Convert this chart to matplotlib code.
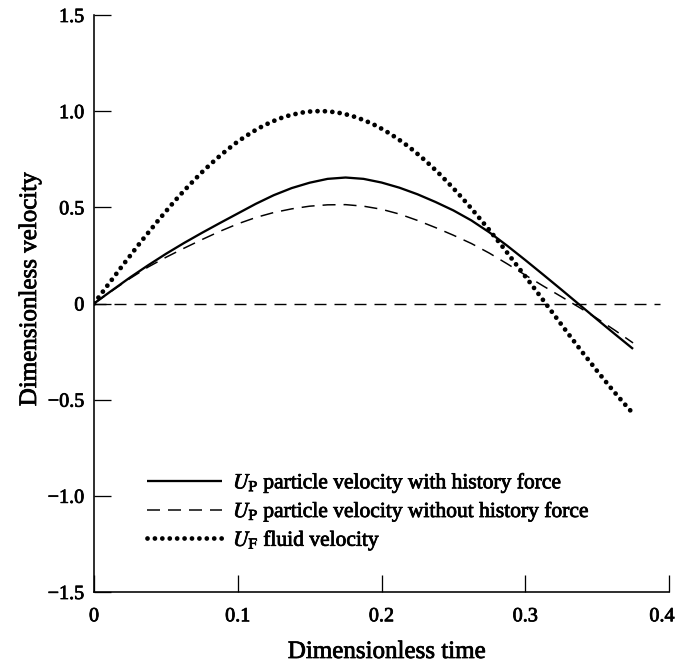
import numpy as np
import matplotlib
matplotlib.use("Agg")
import matplotlib.pyplot as plt
import matplotlib.patheffects as pe
import matplotlib.transforms as mtransforms

# ---------------- data ----------------
t_fluid = np.round(np.arange(0, 76) * 0.005, 4)
u_fluid = [0.000, 0.050, 0.100, 0.149, 0.199, 0.247, 0.296, 0.343, 0.389, 0.435,
           0.479, 0.523, 0.565, 0.605, 0.644, 0.682, 0.717, 0.751, 0.783, 0.813,
           0.842, 0.867, 0.891, 0.913, 0.932, 0.949, 0.964, 0.976, 0.985, 0.993,
           0.998, 1.000, 1.000, 0.997, 0.992, 0.984, 0.974, 0.961, 0.946, 0.929,
           0.909, 0.887, 0.863, 0.837, 0.809, 0.778, 0.746, 0.712, 0.676, 0.638,
           0.599, 0.558, 0.516, 0.472, 0.427, 0.382, 0.335, 0.288, 0.239, 0.190,
           0.141, 0.092, 0.042, -0.008, -0.058, -0.108, -0.158, -0.207, -0.256, -0.303,
           -0.351, -0.397, -0.443, -0.487, -0.530, -0.572]

t_part = np.round(np.arange(0, 31) * 0.0125, 4)
u_hist = [0.000, 0.068, 0.135, 0.198, 0.258, 0.314, 0.367, 0.418, 0.468, 0.518,
          0.563, 0.600, 0.628, 0.648, 0.655, 0.648, 0.629, 0.602, 0.568, 0.528,
          0.484, 0.432, 0.370, 0.300, 0.226, 0.150, 0.073, -0.005, -0.083, -0.160,
          -0.236]
u_nohist = [0.000, 0.066, 0.130, 0.189, 0.240, 0.287, 0.332, 0.375, 0.414, 0.447,
            0.473, 0.492, 0.506, 0.513, 0.514, 0.506, 0.490, 0.465, 0.432, 0.395,
            0.355, 0.312, 0.262, 0.206, 0.148, 0.091, 0.036, -0.020, -0.078, -0.140,
            -0.205]

zero_t = [0.0, 0.394]
zero_v = [0.0, 0.0]

x_ticks = [0, 0.1, 0.2, 0.3, 0.4]
x_ticklabels = ["0", "0.1", "0.2", "0.3", "0.4"]
y_ticks = [-1.5, -1.0, -0.5, 0, 0.5, 1.0, 1.5]
y_ticklabels = ["\u22121.5", "\u22121.0", "\u22120.5", "0", "0.5", "1.0", "1.5"]

labels = [r"$U_\mathrm{P}$ particle velocity with history force",
          r"$U_\mathrm{P}$ particle velocity without history force",
          r"$U_\mathrm{F}$ fluid velocity"]

# ---------------- style ----------------
plt.rcParams["font.family"] = ["Liberation Serif", "DejaVu Serif"]
plt.rcParams["mathtext.fontset"] = "stix"
plt.rcParams["lines.scale_dashes"] = False
PX = 0.72  # points per pixel at dpi 100
heavy = [pe.withStroke(linewidth=0.55, foreground="black")]

fig = plt.figure(figsize=(6.79, 6.66), dpi=100)
ax = fig.add_axes([94 / 679, 74 / 666, 575 / 679, 577 / 666])

l1, = ax.plot(t_part, u_hist, color="black", lw=2.3 * PX, solid_capstyle="butt")
l2, = ax.plot(t_part, u_nohist, color="black", lw=1.5 * PX,
              linestyle=(0, (13 * PX, 8 * PX)))
ax.plot(zero_t, zero_v, color="black", lw=1.4 * PX,
        linestyle=(0, (12 * PX, 8 * PX)))
l3, = ax.plot(t_fluid, u_fluid, color="black", lw=4.8 * PX,
              linestyle=(0, (0.01, 7.4 * PX)), dash_capstyle="round")

ax.set_xlim(0, 0.4)
ax.set_ylim(-1.5, 1.5)
ax.set_xticks(x_ticks)
ax.set_xticklabels(x_ticklabels)
ax.set_yticks(y_ticks)
ax.set_yticklabels(y_ticklabels)
ax.tick_params(direction="in", length=17 * PX, width=1.3 * PX, labelsize=14.5,
               color="black")
ax.tick_params(axis="y", pad=7)
ax.tick_params(axis="x", pad=11)
for s in ["top", "right"]:
    ax.spines[s].set_visible(False)
for s in ["left", "bottom"]:
    ax.spines[s].set_linewidth(1.6 * PX)

for lab in ax.get_xticklabels() + ax.get_yticklabels():
    lab.set_path_effects(heavy)
# keep the last x tick label inside the figure, as in the reference
last = ax.get_xticklabels()[-1]
last.set_transform(last.get_transform() +
                   mtransforms.ScaledTranslation(-7 / 100, 0, fig.dpi_scale_trans))

fig.text(30 / 679, 1 - 289 / 666, "Dimensionless velocity", rotation=90,
         ha="center", va="center", fontsize=18, path_effects=heavy)
fig.text(387 / 679, 1 - 652 / 666, "Dimensionless time",
         ha="center", va="center", fontsize=18, path_effects=heavy)

leg = ax.legend([l1, l2, l3], labels, loc="upper left",
                bbox_to_anchor=(0.092, 0.209), frameon=False, fontsize=15.5,
                handlelength=3.5, handletextpad=0.5, labelspacing=0.22,
                borderaxespad=0, borderpad=0)
for txt in leg.get_texts():
    txt.set_path_effects(heavy)

fig.savefig("out.png", dpi=100)
